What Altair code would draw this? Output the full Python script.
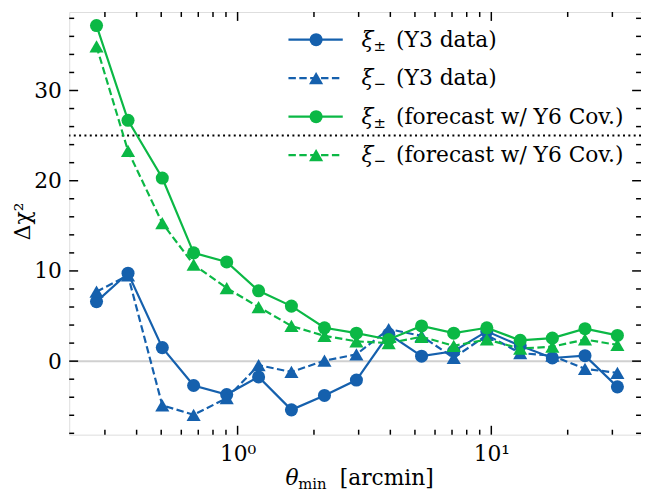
import altair as alt
import pandas as pd

# ---- data ----
theta = [0.278, 0.370, 0.505, 0.671, 0.906, 1.21, 1.63, 2.20, 2.94, 3.94,
         5.31, 7.11, 9.60, 13.0, 17.4, 23.4, 31.4]
y3_pm = [6.6, 9.75, 1.5, -2.7, -3.7, -1.75, -5.4, -3.8, -2.1, 3.0,
         0.55, 1.1, 3.3, 1.7, 0.35, 0.6, -2.85]
y3_m = [7.7, 9.5, -4.9, -5.95, -4.1, -0.45, -1.2, 0.05, 0.75, 3.55,
        2.8, 0.35, 2.9, 0.9, 0.6, -0.85, -1.3]
fc_pm = [37.2, 26.7, 20.3, 12.0, 11.0, 7.8, 6.1, 3.7, 3.1, 2.4,
         3.9, 3.1, 3.7, 2.3, 2.55, 3.6, 2.85]
fc_m = [34.9, 23.3, 15.3, 10.7, 8.1, 6.0, 3.9, 2.8, 2.2, 2.0,
        2.7, 1.7, 2.4, 1.4, 1.6, 2.4, 1.8]

legend_subs = ["\u00b1", "\u2212", "\u00b1", "\u2212"]
legend_texts = ["(Y3 data)", "(Y3 data)", "(forecast w/ Y6 Cov.)", "(forecast w/ Y6 Cov.)"]

threshold = [25]
zero_line = [0]

x_major = [1, 10]
x_minor = [0.3, 0.4, 0.5, 0.6, 0.7, 0.8, 0.9, 2, 3, 4, 5, 6, 7, 8, 9, 20, 30]
y_major = [0, 10, 20, 30]
y_minor = [-8, -6, -4, -2, 2, 4, 6, 8, 12, 14, 16, 18, 22, 24, 26, 28, 32, 34, 36, 38]

BLUE = "#1560ad"
GREEN = "#0bb845"
FONT = "DejaVu Serif"
FS = 22
W, H = 579, 428
CIRCLE_SIZE = 175
TRI_SIZE = 205

xscale = alt.Scale(type="log", domain=[0.217, 38.9], nice=False)
yscale = alt.Scale(domain=[-8.15, 38.7], nice=False, zero=False)

xaxis = alt.Axis(values=x_major, labelExpr="datum.value == 1 ? '10\u2070' : '10\u00b9'",
                 ticks=False, domain=False, grid=False, title=None,
                 labelFont=FONT, labelFontSize=FS, labelColor="black", labelPadding=9)
yaxis = alt.Axis(values=y_major, ticks=False, domain=False, grid=False, title=None,
                 labelFont=FONT, labelFontSize=FS, labelColor="black", labelPadding=8)


def X(f):
    return alt.X(f, type="quantitative", scale=xscale, axis=xaxis)


def Y(f):
    return alt.Y(f, type="quantitative", scale=yscale, axis=yaxis)


one = pd.DataFrame({"a": [1]})

layers = []

# zero line and threshold
layers.append(alt.Chart(pd.DataFrame({"v": zero_line})).mark_rule(
    color="#d0d0d0", strokeWidth=2).encode(y=Y("v")))
layers.append(alt.Chart(pd.DataFrame({"v": threshold})).mark_rule(
    color="black", strokeWidth=2, strokeDash=[2, 3.4]).encode(y=Y("v")))


def series(vals, color, dashed, shape):
    df = pd.DataFrame({"theta": theta, "dchi2": vals})
    base = alt.Chart(df).encode(x=X("theta"), y=Y("dchi2"))
    if dashed:
        line = base.mark_line(color=color, strokeWidth=2.2, strokeDash=[7.5, 3.5])
    else:
        line = base.mark_line(color=color, strokeWidth=2.2)
    size = CIRCLE_SIZE if shape == "circle" else TRI_SIZE
    pts = base.mark_point(shape=shape, filled=True, size=size, color=color, opacity=1)
    return [line, pts]


layers += series(y3_pm, BLUE, False, "circle")
layers += series(y3_m, BLUE, True, "triangle-up")
layers += series(fc_pm, GREEN, False, "circle")
layers += series(fc_m, GREEN, True, "triangle-up")

# inward ticks on all four sides
for vals, ln in [(x_major, 9), (x_minor, 5)]:
    d = pd.DataFrame({"t": vals})
    layers.append(alt.Chart(d).mark_rule(color="black", strokeWidth=1.5).encode(
        x=X("t"), y=alt.value(H), y2=alt.value(H - ln)))
    layers.append(alt.Chart(d).mark_rule(color="black", strokeWidth=1.5).encode(
        x=X("t"), y=alt.value(0), y2=alt.value(ln)))
for vals, ln in [(y_major, 9), (y_minor, 5)]:
    d = pd.DataFrame({"t": vals})
    layers.append(alt.Chart(d).mark_rule(color="black", strokeWidth=1.5).encode(
        y=Y("t"), x=alt.value(0), x2=alt.value(ln)))
    layers.append(alt.Chart(d).mark_rule(color="black", strokeWidth=1.5).encode(
        y=Y("t"), x=alt.value(W), x2=alt.value(W - ln)))

# legend (manual, to combine line + marker)
leg_rows = [28, 67, 106, 145]
leg_colors = [BLUE, BLUE, GREEN, GREEN]
leg_dashed = [False, True, False, True]
leg_shapes = ["circle", "triangle-up", "circle", "triangle-up"]
for i, yc in enumerate(leg_rows):
    c = alt.Chart(one)
    if leg_dashed[i]:
        ln = c.mark_rule(color=leg_colors[i], strokeWidth=2.2, strokeDash=[7.5, 3.5])
    else:
        ln = c.mark_rule(color=leg_colors[i], strokeWidth=2.2)
    layers.append(ln.encode(x=alt.value(222), x2=alt.value(277), y=alt.value(yc)))
    size = CIRCLE_SIZE if leg_shapes[i] == "circle" else TRI_SIZE
    layers.append(c.mark_point(shape=leg_shapes[i], filled=True, size=size,
                               color=leg_colors[i], opacity=1).encode(
        x=alt.value(250), y=alt.value(yc)))
    layers.append(c.mark_text(text="\u03be", font=FONT, fontSize=FS, fontStyle="italic",
                              align="left", baseline="alphabetic", color="black").encode(
        x=alt.value(296), y=alt.value(yc + 7)))
    layers.append(c.mark_text(text=legend_subs[i], font=FONT, fontSize=15,
                              align="left", baseline="alphabetic", color="black").encode(
        x=alt.value(308), y=alt.value(yc + 11)))
    layers.append(c.mark_text(text=legend_texts[i], font=FONT, fontSize=FS,
                              align="left", baseline="alphabetic", color="black").encode(
        x=alt.value(331), y=alt.value(yc + 7)))

# axis titles (manual, for sub/superscripts)
c = alt.Chart(one)
layers.append(c.mark_text(text="\u03b8", font=FONT, fontSize=FS, fontStyle="italic",
                          align="left", baseline="alphabetic", color="black").encode(
    x=alt.value(219), y=alt.value(479)))
layers.append(c.mark_text(text="min", font=FONT, fontSize=15,
                          align="left", baseline="alphabetic", color="black").encode(
    x=alt.value(232), y=alt.value(483)))
layers.append(c.mark_text(text="[arcmin]", font=FONT, fontSize=FS,
                          align="left", baseline="alphabetic", color="black").encode(
    x=alt.value(274), y=alt.value(479)))
layers.append(c.mark_text(text="\u0394\u03c7\u00b2", font=FONT, fontSize=22, angle=270,
                          align="center", baseline="middle", color="black").encode(
    x=alt.value(-47), y=alt.value(212)))

chart = alt.layer(*layers).properties(
    width=W, height=H, autosize="none",
    padding={"left": 62, "top": 1, "right": 0, "bottom": 56},
).configure_view(stroke="black", strokeWidth=2).configure(background="white")

chart.save("out.html", embed_options={"renderer": "svg", "actions": False})
